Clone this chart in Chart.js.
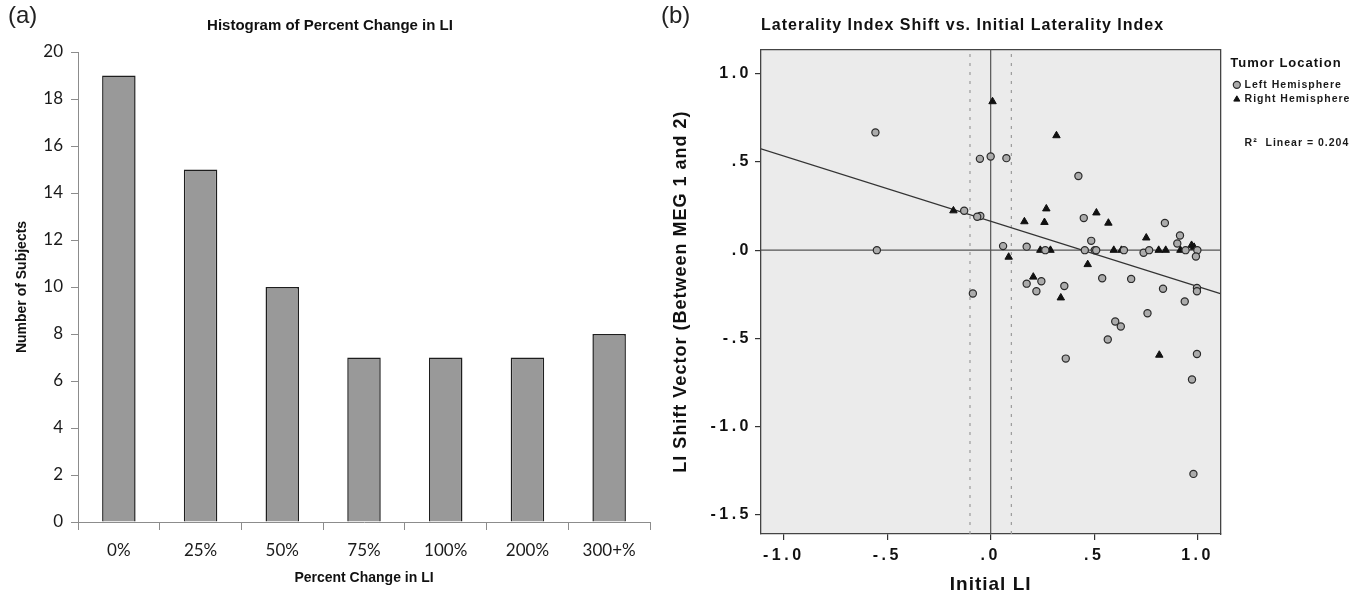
<!DOCTYPE html>
<html>
<head>
<meta charset="utf-8">
<script src="https://cdn.jsdelivr.net/npm/chart.js@4/dist/chart.umd.min.js"></script>
<style>
  body { margin: 0; background: #fff; }
  #wrap { position: relative; width: 1359px; height: 596px; }
  canvas { position: absolute; top: 0; }
  .tag { position: absolute; top: 1px; font: 24px 'Liberation Sans', Arial, sans-serif; color: #222; z-index: 2; }
</style>
</head>
<body>
<div id="wrap">
  <canvas id="histChart" width="660" height="596" style="left:0"></canvas>
  <canvas id="shiftChart" width="699" height="596" style="left:660px"></canvas>
  <div class="tag" style="left:8px">(a)</div>
  <div class="tag" style="left:661px">(b)</div>
</div>
<script>
// (a) histogram
const categories = ['0%', '25%', '50%', '75%', '100%', '200%', '300+%'];
const subjectCounts = [19, 15, 10, 7, 7, 7, 8];

// (b) LI shift vs initial LI
const leftX = [-0.557, -0.052, 0.0, 0.076, -0.128, -0.050, -0.065, -0.55, 0.06, 0.174,
  0.264, -0.086, 0.174, 0.245, 0.221, 0.356, 0.424, 0.45, 0.486, 0.455,
  0.503, 0.51, 0.644, 0.539, 0.679, 0.566, 0.602, 0.629, 0.758, 0.739,
  0.766, 0.842, 0.833, 0.915, 0.902, 0.942, 0.999, 0.992, 0.997, 0.997,
  0.938, 0.363, 0.997, 0.973, 0.98];
const leftY = [0.668, 0.518, 0.531, 0.522, 0.224, 0.194, 0.19, 0.0, 0.023, 0.02,
  0.0, -0.246, -0.19, -0.176, -0.233, -0.203, 0.421, 0.182, 0.053, 0.0,
  0.0, 0.0, 0.0, -0.159, -0.163, -0.507, -0.405, -0.433, -0.358, -0.015,
  0.0, 0.154, -0.219, 0.083, 0.038, 0.0, 0.0, -0.036, -0.214, -0.233,
  -0.291, -0.615, -0.589, -0.734, -1.269];
const rightX = [0.009, 0.318, -0.18, 0.163, 0.26, 0.269, 0.24, 0.289, 0.087, 0.206,
  0.339, 0.511, 0.569, 0.595, 0.632, 0.469, 0.752, 0.812, 0.846, 0.917,
  0.971, 0.983, 0.815];
const rightY = [0.843, 0.65, 0.224, 0.162, 0.158, 0.235, 0.0, 0.0, -0.039, -0.152,
  -0.27, 0.212, 0.154, 0.0, 0.0, -0.081, 0.07, 0.0, 0.0, 0.0,
  0.028, 0.017, -0.595];
const fitIntercept = 0.164;
const fitSlope = -0.370;
const rSquared = 0.204;
const xRange = [-1.11, 1.11];
const yRange = [-1.61, 1.14];
const xTicks = [-1, -0.5, 0, 0.5, 1];
const xTickLabels = ['-1.0', '-.5', '.0', '.5', '1.0'];
const yTicks = [1, 0.5, 0, -0.5, -1, -1.5];
const yTickLabels = ['1.0', '.5', '.0', '-.5', '-1.0', '-1.5'];
const cutoffs = [-0.1, 0.1];

const sans = "'Liberation Sans', Arial, sans-serif";
const calibriLike = "Lato, 'Open Sans', sans-serif";

new Chart(document.getElementById('histChart'), {
    type: 'bar',
    data: {
        labels: categories,
        datasets: [{
            data: subjectCounts,
            backgroundColor: '#999999',
            borderColor: '#1e1e1e',
            borderWidth: 1.5,
            barPercentage: 0.41,
            categoryPercentage: 1
        }]
    },
    options: {
        responsive: false,
        animation: false,
        layout: { padding: { left: 10, right: 10 } },
        plugins: {
            legend: { display: false },
            tooltip: { enabled: false },
            title: {
                display: true,
                text: 'Histogram of Percent Change in LI',
                color: '#111',
                font: { family: sans, size: 15, weight: 'bold' },
                padding: { top: 17, bottom: 17 }
            }
        },
        scales: {
            x: {
                grid: { offset: true, drawOnChartArea: false, tickLength: 8, color: '#8c8c8c' },
                border: { color: '#8c8c8c' },
                ticks: { font: { family: calibriLike, size: 17 }, color: '#1a1a1a', padding: 10 },
                title: {
                    display: true, text: 'Percent Change in LI', color: '#111',
                    font: { family: sans, size: 14, weight: 'bold' },
                    padding: { top: 4, bottom: 9 }
                },
                afterFit: s => { s.height = 74; }
            },
            y: {
                min: 0, max: 20,
                grid: { drawOnChartArea: false, tickLength: 7, color: '#8c8c8c' },
                border: { color: '#8c8c8c' },
                ticks: { stepSize: 2, font: { family: calibriLike, size: 17 }, color: '#1a1a1a', padding: 8 },
                title: {
                    display: true, text: 'Number of Subjects', color: '#111',
                    font: { family: sans, size: 14, weight: 'bold' },
                    padding: { top: 4, bottom: 0 }
                },
                afterFit: s => { s.width = 68; }
            }
        }
    }
});

// grey plot background and SPSS-like letter spacing
const plotBackdrop = {
    id: 'plotBackdrop',
    beforeLayout(chart) { chart.ctx.letterSpacing = '1px'; },
    beforeDraw(chart) {
        const { ctx, chartArea: a } = chart;
        ctx.letterSpacing = '1px';
        // spaced legend text is wider than the measured box, so let it run to the edge
        chart.legend.right = chart.width;
        chart.legend.width = chart.width - chart.legend.left;
        ctx.save();
        ctx.fillStyle = '#ebebeb';
        ctx.fillRect(a.left, a.top, a.width, a.height);
        ctx.restore();
    },
    afterDatasetsDraw(chart) { chart.ctx.letterSpacing = '3.5px'; },
    afterDraw(chart) { chart.ctx.letterSpacing = '0px'; }
};

const toPoints = (xs, ys) => xs.map((x, i) => ({ x: x, y: ys[i] }));
const refLine = (data, color, dash) => ({
    data: data, showLine: true, pointRadius: 0, borderColor: color,
    borderWidth: 1.2, borderDash: dash || [], fill: false
});

const axisFont = size => ({ family: sans, size: size, weight: 'bold' });
const frame = { color: '#444', width: 1.3 };

new Chart(document.getElementById('shiftChart'), {
    type: 'scatter',
    data: {
        datasets: [
            {
                label: 'Left Hemisphere',
                data: toPoints(leftX, leftY),
                pointStyle: 'circle', pointRadius: 3.6,
                backgroundColor: '#ababab', borderColor: '#2a2a2a', borderWidth: 1.2
            },
            {
                label: 'Right Hemisphere',
                data: toPoints(rightX, rightY),
                pointStyle: 'triangle', pointRadius: 4.3,
                backgroundColor: '#111', borderColor: '#111', borderWidth: 1
            },
            refLine(xRange.map(x => ({ x: x, y: fitIntercept + fitSlope * x })), '#333'),
            refLine([{ x: 0, y: yRange[0] }, { x: 0, y: yRange[1] }], '#555'),
            refLine([{ x: xRange[0], y: 0 }, { x: xRange[1], y: 0 }], '#555'),
            ...cutoffs.map(c => refLine([{ x: c, y: yRange[0] }, { x: c, y: yRange[1] }], '#9a9a9a', [3, 6]))
        ]
    },
    plugins: [plotBackdrop],
    options: {
        responsive: false,
        animation: false,
        layout: { padding: { left: 2, right: 15 } },
        plugins: {
            tooltip: { enabled: false },
            title: {
                display: true,
                text: 'Laterality Index Shift vs. Initial Laterality Index',
                fullSize: false,
                align: 'start',
                color: '#111',
                font: axisFont(16),
                padding: { top: 16, bottom: 14 }
            },
            legend: {
                position: 'right',
                align: 'start',
                title: {
                    display: true, text: 'Tumor Location', position: 'start',
                    color: '#111', font: axisFont(13),
                    padding: { top: 57, bottom: 3 }
                },
                labels: {
                    usePointStyle: true, boxWidth: 5, boxHeight: 5, padding: 4,
                    color: '#1a1a1a', font: axisFont(10.5),
                    generateLabels: chart => {
                        const items = Chart.defaults.plugins.legend.labels.generateLabels(chart).slice(0, 2);
                        const blank = { text: '', fillStyle: 'rgba(0,0,0,0)', strokeStyle: 'rgba(0,0,0,0)', lineWidth: 0, hidden: false };
                        items.push({ ...blank }, { ...blank }, { ...blank, text: 'R²  Linear = ' + rSquared.toFixed(3) });
                        return items;
                    }
                }
            }
        },
        scales: {
            x: {
                min: xRange[0], max: xRange[1],
                afterBuildTicks: s => { s.ticks = xTicks.map(v => ({ value: v })); },
                afterFit: s => { s.height = 62; },
                ticks: {
                    callback: v => xTickLabels[xTicks.indexOf(v)],
                    font: axisFont(16), color: '#111', padding: 6, maxRotation: 0, z: 1
                },
                grid: { drawOnChartArea: false, tickLength: 6, color: '#333', lineWidth: 1.2 },
                border: frame,
                title: {
                    display: true, text: 'Initial LI', color: '#111',
                    font: axisFont(19), padding: { top: 0, bottom: 0 }
                }
            },
            y: {
                min: yRange[0], max: yRange[1],
                afterBuildTicks: s => { s.ticks = yTicks.map(v => ({ value: v })); },
                afterFit: s => { s.width = 99; },
                ticks: {
                    callback: v => yTickLabels[yTicks.indexOf(v)],
                    font: axisFont(16), color: '#111', padding: 3, z: 1
                },
                grid: { drawOnChartArea: false, tickLength: 6, color: '#333', lineWidth: 1.2 },
                border: frame,
                title: {
                    display: true, text: 'LI Shift Vector (Between MEG 1 and 2)', color: '#111',
                    font: axisFont(18), padding: { top: 8, bottom: 0 }
                }
            },
            x2: {
                type: 'linear', position: 'top', min: xRange[0], max: xRange[1],
                ticks: { display: false }, grid: { display: false }, border: frame,
                afterFit: s => { s.height = 0; }
            },
            y2: {
                type: 'linear', position: 'right', min: yRange[0], max: yRange[1],
                ticks: { display: false }, grid: { display: false }, border: frame,
                afterFit: s => { s.width = 10; }
            }
        }
    }
});
</script>
</body>
</html>
